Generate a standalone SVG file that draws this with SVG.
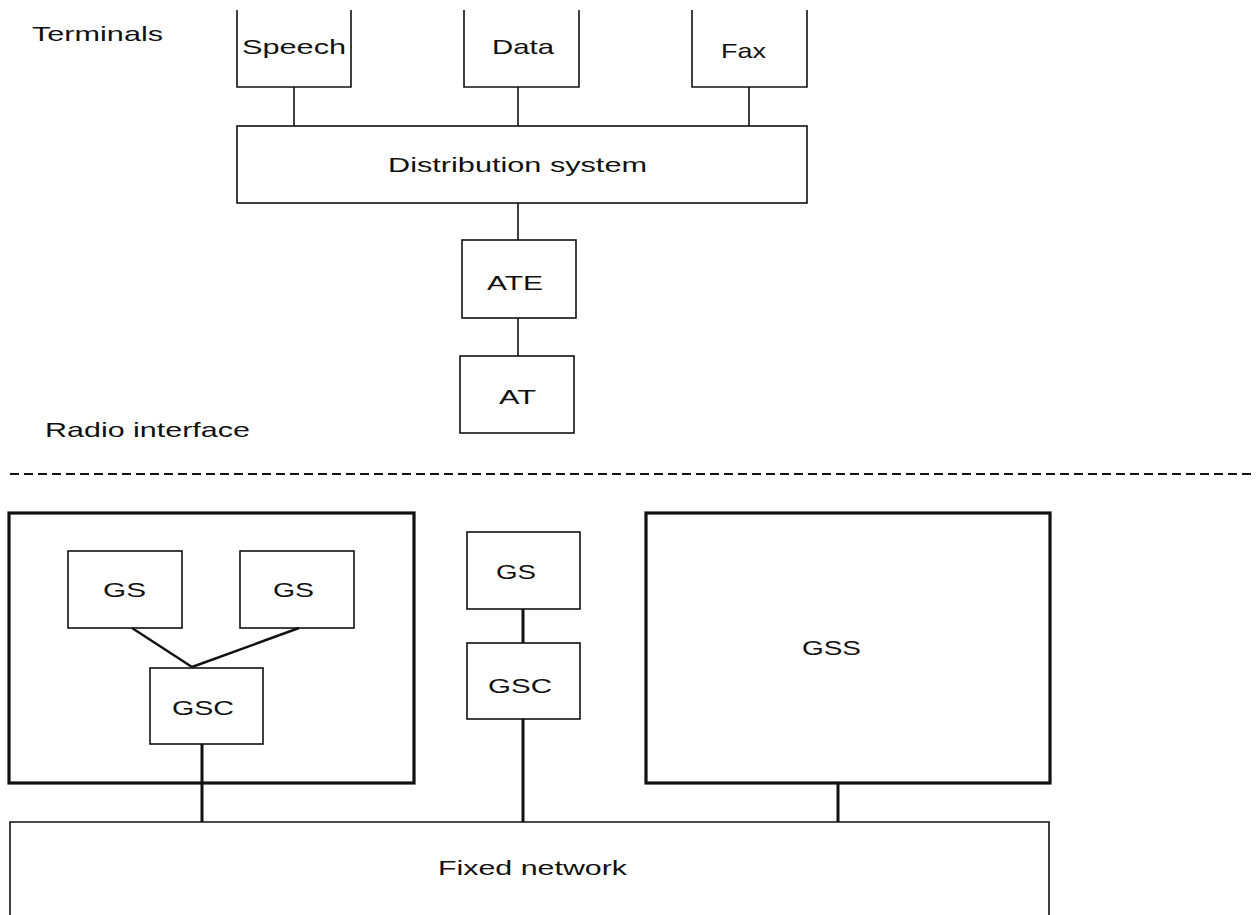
<svg xmlns="http://www.w3.org/2000/svg" width="1256" height="915" viewBox="0 0 1256 915">
<style>
  .box { fill: none; stroke: #111; stroke-width: 1.6; }
  .thick { fill: none; stroke: #111; stroke-width: 3.2; }
  .conn { stroke: #111; stroke-width: 1.6; fill: none; }
  .conn-thick { stroke: #111; stroke-width: 3; fill: none; }
  .conn-diag { stroke: #111; stroke-width: 2.4; fill: none; }
  .dash { stroke: #111; stroke-width: 2.2; stroke-dasharray: 9 5; fill: none; }
  text { font-family: "Liberation Sans", Arial, sans-serif; font-size: 21px; fill: #111; }
</style>
<rect width="1256" height="915" fill="#fff"/>

<g id="label-terminals"><text transform="translate(32,41) scale(1.4,1)" textLength="93.6" lengthAdjust="spacingAndGlyphs">Terminals</text></g>
<g id="label-radio"><text transform="translate(45,437) scale(1.4,1)" textLength="146.4" lengthAdjust="spacingAndGlyphs">Radio interface</text></g>

<g id="speech">
  <path class="box" d="M237,10 V87 H351 V10"/>
  <text transform="translate(242,54) scale(1.4,1)" textLength="74.3" lengthAdjust="spacingAndGlyphs">Speech</text>
</g>
<g id="data">
  <path class="box" d="M464,10 V87 H579 V10"/>
  <text transform="translate(492,54) scale(1.4,1)" textLength="44.3" lengthAdjust="spacingAndGlyphs">Data</text>
</g>
<g id="fax">
  <path class="box" d="M692,10 V87 H807 V10"/>
  <text transform="translate(721,58) scale(1.4,1)" textLength="32.1" lengthAdjust="spacingAndGlyphs">Fax</text>
</g>
<g id="distribution">
  <rect class="box" x="237" y="126" width="570" height="77"/>
  <text transform="translate(388,172) scale(1.4,1)" textLength="185" lengthAdjust="spacingAndGlyphs">Distribution system</text>
</g>
<g id="ate">
  <rect class="box" x="462" y="240" width="114" height="78"/>
  <text transform="translate(487,290) scale(1.4,1)" textLength="40" lengthAdjust="spacingAndGlyphs">ATE</text>
</g>
<g id="at">
  <rect class="box" x="460" y="356" width="114" height="77"/>
  <text transform="translate(499,404) scale(1.4,1)" textLength="26.4" lengthAdjust="spacingAndGlyphs">AT</text>
</g>

<g id="radio-interface-line">
  <line class="dash" x1="10" y1="474" x2="1256" y2="474"/>
</g>

<g id="subsystem-left">
  <rect class="thick" x="9" y="513" width="405" height="270"/>
</g>
<g id="gs1">
  <rect class="box" x="68" y="551" width="114" height="77"/>
  <text transform="translate(103,597) scale(1.4,1)" textLength="30.7" lengthAdjust="spacingAndGlyphs">GS</text>
</g>
<g id="gs2">
  <rect class="box" x="240" y="551" width="114" height="77"/>
  <text transform="translate(273,597) scale(1.4,1)" textLength="29.3" lengthAdjust="spacingAndGlyphs">GS</text>
</g>
<g id="gsc1">
  <rect class="box" x="150" y="668" width="113" height="76"/>
  <text transform="translate(172,715) scale(1.4,1)" textLength="44.3" lengthAdjust="spacingAndGlyphs">GSC</text>
</g>
<g id="gs3">
  <rect class="box" x="467" y="532" width="113" height="77"/>
  <text transform="translate(496,579) scale(1.4,1)" textLength="28.6" lengthAdjust="spacingAndGlyphs">GS</text>
</g>
<g id="gsc2">
  <rect class="box" x="467" y="643" width="113" height="76"/>
  <text transform="translate(488,693) scale(1.4,1)" textLength="45.7" lengthAdjust="spacingAndGlyphs">GSC</text>
</g>
<g id="gss">
  <rect class="thick" x="646" y="513" width="404" height="270"/>
  <text transform="translate(802,655) scale(1.4,1)" textLength="42.1" lengthAdjust="spacingAndGlyphs">GSS</text>
</g>
<g id="fixed-network">
  <path class="box" d="M10,920 V822 H1049 V920"/>
  <text transform="translate(438,875) scale(1.4,1)" textLength="135" lengthAdjust="spacingAndGlyphs">Fixed network</text>
</g>

<g id="connectors">
  <line class="conn" x1="294" y1="87" x2="294" y2="126"/>
  <line class="conn" x1="518" y1="87" x2="518" y2="126"/>
  <line class="conn" x1="749" y1="87" x2="749" y2="126"/>
  <line class="conn" x1="518" y1="203" x2="518" y2="240"/>
  <line class="conn" x1="518" y1="318" x2="518" y2="356"/>
  <line class="conn-diag" x1="132" y1="628" x2="192" y2="667"/>
  <line class="conn-diag" x1="299" y1="628" x2="192" y2="667"/>
  <line class="conn-thick" x1="202" y1="744" x2="202" y2="822"/>
  <line class="conn-thick" x1="523" y1="609" x2="523" y2="643"/>
  <line class="conn-thick" x1="523" y1="719" x2="523" y2="822"/>
  <line class="conn-thick" x1="838" y1="783" x2="838" y2="822"/>
</g>
</svg>
